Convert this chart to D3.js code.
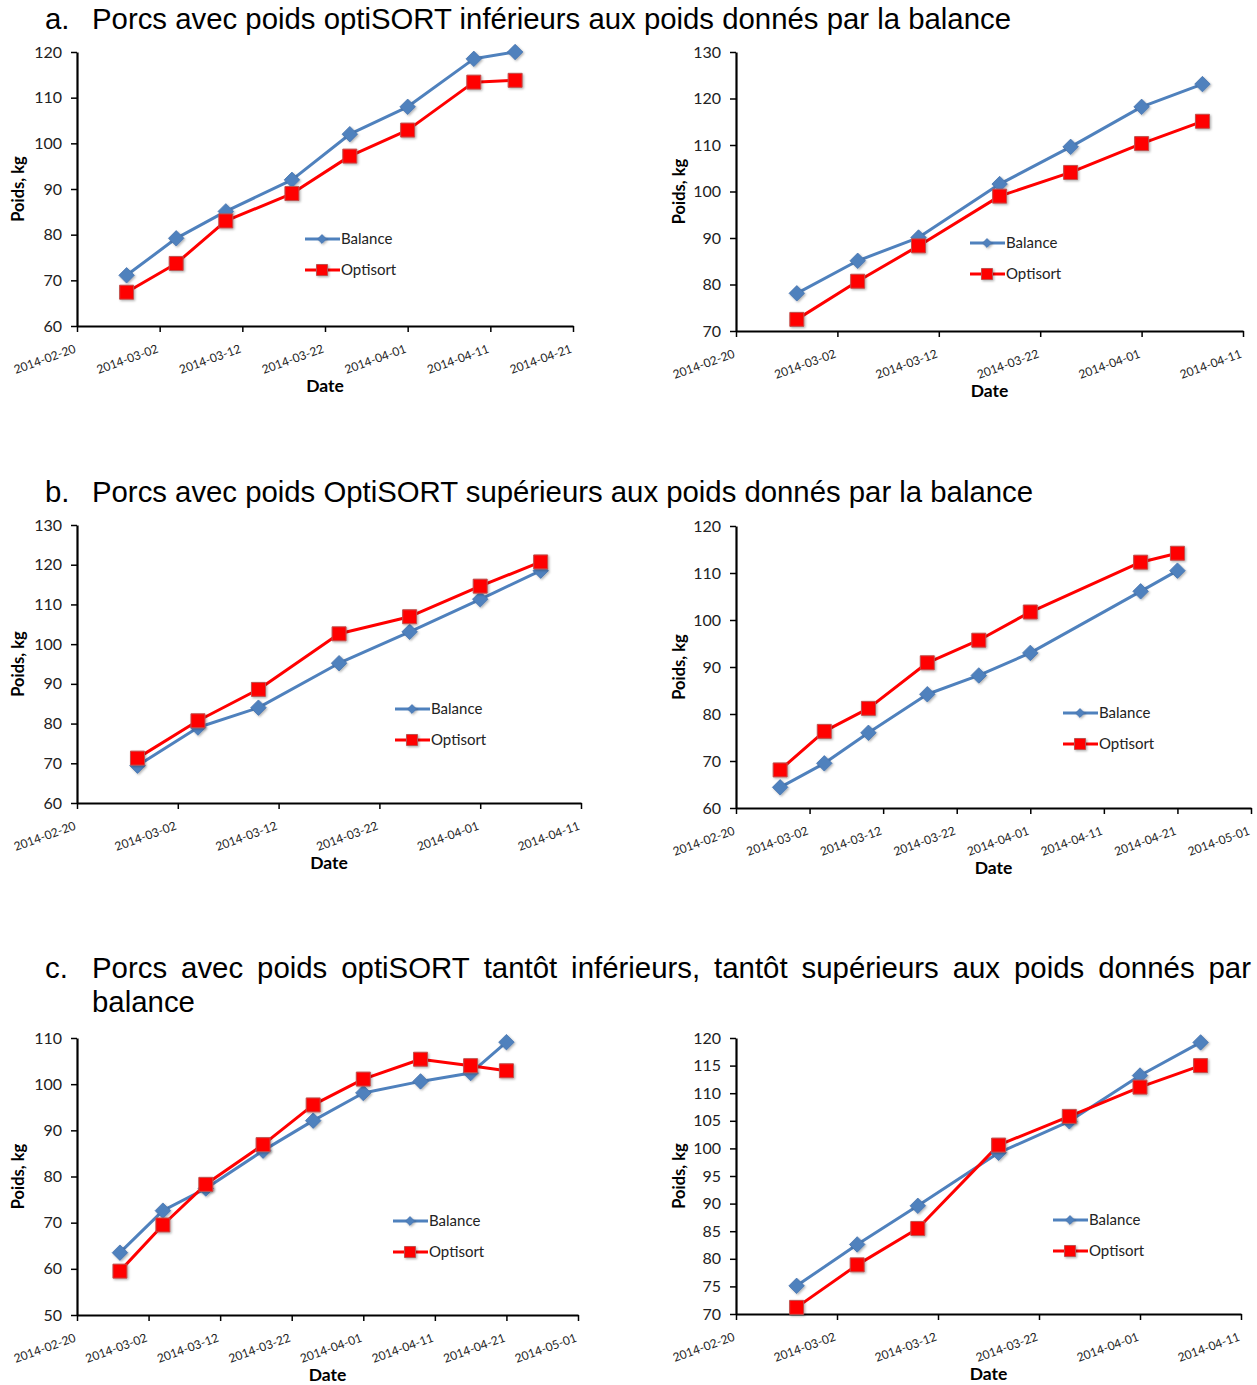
<!DOCTYPE html>
<html><head><meta charset="utf-8">
<script src="https://cdn.jsdelivr.net/npm/d3@7"></script>
<style>
body{margin:0;background:#fff;}
svg{display:block;}
</style></head>
<body>
<svg id="c" width="1257" height="1385"></svg>
<script>
// ---------- DATA ----------
const titleA = "Porcs avec poids optiSORT inférieurs aux poids donnés par la balance";
const titleB = "Porcs avec poids OptiSORT supérieurs aux poids donnés par la balance";
const titleC = "Porcs avec poids optiSORT tantôt inférieurs, tantôt supérieurs aux poids donnés par balance";
const seriesNames = ["Balance", "Optisort"];

const datesA1 = ["2014-02-26","2014-03-04","2014-03-10","2014-03-18","2014-03-25","2014-04-01","2014-04-09","2014-04-14"];
const balanceA1 = [71.1, 79.2, 85.1, 92.0, 102.0, 108.0, 118.5, 120.0];
const optisortA1 = [67.4, 73.7, 83.0, 89.0, 97.2, 102.9, 113.4, 113.8];

const datesA2 = ["2014-02-26","2014-03-04","2014-03-10","2014-03-18","2014-03-25","2014-04-01","2014-04-07"];
const balanceA2 = [78.1, 85.1, 90.1, 101.6, 109.6, 118.2, 123.1];
const optisortA2 = [72.5, 80.7, 88.3, 99.0, 104.1, 110.3, 115.1];

const datesB1 = ["2014-02-26","2014-03-04","2014-03-10","2014-03-18","2014-03-25","2014-04-01","2014-04-07"];
const balanceB1 = [69.4, 79.0, 84.0, 95.2, 103.1, 111.3, 118.5];
const optisortB1 = [71.3, 80.7, 88.6, 102.6, 106.9, 114.6, 120.7];

const datesB2 = ["2014-02-26","2014-03-04","2014-03-10","2014-03-18","2014-03-25","2014-04-01","2014-04-16","2014-04-21"];
const balanceB2 = [64.4, 69.5, 76.0, 84.2, 88.2, 93.0, 106.1, 110.5];
const optisortB2 = [68.1, 76.3, 81.2, 90.9, 95.7, 101.7, 112.3, 114.2];

const datesC1 = ["2014-02-26","2014-03-04","2014-03-10","2014-03-18","2014-03-25","2014-04-01","2014-04-09","2014-04-16","2014-04-21"];
const balanceC1 = [63.5, 72.6, 77.4, 85.6, 92.1, 98.1, 100.6, 102.4, 109.1];
const optisortC1 = [59.5, 69.5, 78.3, 86.9, 95.5, 101.1, 105.4, 104.0, 102.9];

const datesC2 = ["2014-02-26","2014-03-04","2014-03-10","2014-03-18","2014-03-25","2014-04-01","2014-04-07"];
const balanceC2 = [75.1, 82.6, 89.6, 99.2, 104.9, 113.2, 119.2];
const optisortC2 = [71.2, 78.9, 85.5, 100.6, 105.8, 111.1, 115.0];

const xStart = "2014-02-20";
const xEndA1 = "2014-04-21", xEndA2 = "2014-04-11", xEndB1 = "2014-04-11",
      xEndB2 = "2014-05-01", xEndC1 = "2014-05-01", xEndC2 = "2014-04-11";
const yDomA1 = [60,120], yDomA2 = [70,130], yDomB1 = [60,130], yDomB2 = [60,120], yDomC1 = [50,110], yDomC2 = [70,120];
const yStepA1 = 10, yStepA2 = 10, yStepB1 = 10, yStepB2 = 10, yStepC1 = 10, yStepC2 = 5;
const xTickDays = 10;
const yLabel = "Poids, kg";
const xLabel = "Date";

// ---------- LAYOUT ----------
const svg = d3.select("#c");
const parse = d3.timeParse("%Y-%m-%d");
const fmt = d3.timeFormat("%Y-%m-%d");
const BLUE = "#4F81BD", RED = "#FF0000";
const FONT = "Lato, 'Open Sans', sans-serif";
const TFONT = "'Liberation Sans', Arial, sans-serif";
const TSIZE = 29.4;

const charts = [
  {dates:datesA1, bal:balanceA1, opt:optisortA1, xEnd:xEndA1, yDom:yDomA1, yStep:yStepA1, x0:77, x1:573, yT:52, yB:326, lx:305, ly:239, yl:18},
  {dates:datesA2, bal:balanceA2, opt:optisortA2, xEnd:xEndA2, yDom:yDomA2, yStep:yStepA2, x0:736, x1:1243, yT:52, yB:331, lx:970, ly:243, yl:679},
  {dates:datesB1, bal:balanceB1, opt:optisortB1, xEnd:xEndB1, yDom:yDomB1, yStep:yStepB1, x0:77, x1:581, yT:525, yB:803, lx:395, ly:709, yl:18},
  {dates:datesB2, bal:balanceB2, opt:optisortB2, xEnd:xEndB2, yDom:yDomB2, yStep:yStepB2, x0:736, x1:1251, yT:526, yB:808, lx:1063, ly:713, yl:679},
  {dates:datesC1, bal:balanceC1, opt:optisortC1, xEnd:xEndC1, yDom:yDomC1, yStep:yStepC1, x0:77, x1:578, yT:1038, yB:1315, lx:393, ly:1221, yl:18},
  {dates:datesC2, bal:balanceC2, opt:optisortC2, xEnd:xEndC2, yDom:yDomC2, yStep:yStepC2, x0:736, x1:1241, yT:1038, yB:1314, lx:1053, ly:1220, yl:679},
];

const defs = svg.append("defs");
const f = defs.append("filter").attr("id","sh").attr("x","-50%").attr("y","-50%").attr("width","200%").attr("height","200%");
f.append("feDropShadow").attr("dx",1.2).attr("dy",1.2).attr("stdDeviation",0.9).attr("flood-color","#000").attr("flood-opacity",0.3);

const diamond = d3.symbol().type(d3.symbolDiamond2);
const square = d3.symbol().type(d3.symbolSquare);

function drawMarker(g, kind, x, y, s) {
  if (kind === 0) {
    g.append("path").attr("d", diamond.size(s*s/2)())
      .attr("transform",`translate(${x},${y})`)
      .attr("fill",BLUE).attr("stroke","#4674AE").attr("stroke-width",0.8)
      .attr("filter","url(#sh)");
  } else {
    g.append("path").attr("d", square.size(s*s)())
      .attr("transform",`translate(${x},${y})`)
      .attr("fill",RED).attr("stroke","#C0504D").attr("stroke-width",1)
      .attr("filter","url(#sh)");
  }
}

charts.forEach(c => {
  const g = svg.append("g");
  const x = d3.scaleTime().domain([parse(xStart), parse(c.xEnd)]).range([c.x0, c.x1]);
  const y = d3.scaleLinear().domain(c.yDom).range([c.yB, c.yT]);
  const xTicks = d3.timeDay.range(parse(xStart), d3.timeDay.offset(parse(c.xEnd),1), xTickDays);
  const yTicks = d3.range(c.yDom[0], c.yDom[1] + 0.001, c.yStep);

  const xa = g.append("g").attr("transform",`translate(0,${c.yB})`)
    .call(d3.axisBottom(x).tickValues(xTicks).tickFormat(fmt).tickSize(6).tickSizeOuter(0));
  xa.select(".domain").attr("stroke","#000").attr("stroke-width",2.2);
  xa.selectAll(".tick line").attr("stroke","#000").attr("stroke-width",1.5);
  xa.selectAll(".tick text")
    .attr("font-family",FONT).attr("font-size",12).attr("fill","#222")
    .attr("text-anchor","end").attr("y",0).attr("dy",0)
    .attr("transform","translate(-1,26) rotate(-20)");

  const ya = g.append("g").attr("transform",`translate(${c.x0},0)`)
    .call(d3.axisLeft(y).tickValues(yTicks).tickFormat(d3.format("d")).tickSize(6).tickSizeOuter(0));
  ya.select(".domain").attr("stroke","#000").attr("stroke-width",2.2);
  ya.selectAll(".tick line").attr("stroke","#000").attr("stroke-width",1.5);
  ya.selectAll(".tick text").attr("font-family",FONT).attr("font-size",16).attr("fill","#222").attr("x",-15);

  g.append("text").attr("transform",`translate(${c.yl+6},${(c.yT+c.yB)/2}) rotate(-90)`)
    .attr("text-anchor","middle").attr("font-family",FONT).attr("font-weight","bold").attr("font-size",16.5)
    .text(yLabel);
  g.append("text").attr("x",(c.x0+c.x1)/2).attr("y",c.yB+66)
    .attr("text-anchor","middle").attr("font-family",FONT).attr("font-weight","bold").attr("font-size",17.5)
    .text(xLabel);

  const line = d3.line().x((d,i)=>x(parse(c.dates[i]))).y(d=>y(d));
  [c.bal, c.opt].forEach((vals, k) => {
    g.append("path").datum(vals).attr("d", line).attr("fill","none")
      .attr("stroke", k===0?BLUE:RED).attr("stroke-width",3).attr("stroke-linejoin","round");
  });
  [c.bal, c.opt].forEach((vals, k) => {
    vals.forEach((v,i) => drawMarker(g, k, x(parse(c.dates[i])), y(v), k===0?17.5:14));
  });

  seriesNames.forEach((name,k) => {
    const ly = c.ly + k*31;
    g.append("line").attr("x1",c.lx).attr("x2",c.lx+35).attr("y1",ly).attr("y2",ly)
      .attr("stroke",k===0?BLUE:RED).attr("stroke-width",3);
    drawMarker(g, k, c.lx+17, ly, k===0?10:11);
    g.append("text").attr("x",c.lx+36).attr("y",ly+5).attr("font-family",FONT).attr("font-size",15)
      .attr("fill","#222").text(name);
  });
});

function title(letter, txt, yy, w) {
  svg.append("text").attr("x",45).attr("y",yy).attr("font-family",TFONT).attr("font-size",TSIZE).text(letter);
  svg.append("text").attr("x",92).attr("y",yy).attr("font-family",TFONT).attr("font-size",TSIZE)
    .attr("textLength",w).attr("lengthAdjust","spacingAndGlyphs").text(txt);
}
title("a.", titleA, 29, 919);
title("b.", titleB, 502, 941);

svg.append("text").attr("x",45).attr("y",978).attr("font-family",TFONT).attr("font-size",TSIZE).text("c.");
const wordsC = titleC.split(" ");
const line1 = wordsC.slice(0, wordsC.length-1), line2 = wordsC.slice(wordsC.length-1);
const tmp = line1.map(w => svg.append("text").attr("font-family",TFONT).attr("font-size",TSIZE).attr("y",978).text(w));
const widths = tmp.map(t => t.node().getComputedTextLength());
const total = d3.sum(widths);
const gap = (1251 - 92 - total) / (line1.length - 1);
let cx = 92;
tmp.forEach((t,i) => { t.attr("x", cx); cx += widths[i] + gap; });
svg.append("text").attr("x",92).attr("y",1012).attr("font-family",TFONT).attr("font-size",TSIZE).text(line2.join(" "));
</script>
</body></html>
